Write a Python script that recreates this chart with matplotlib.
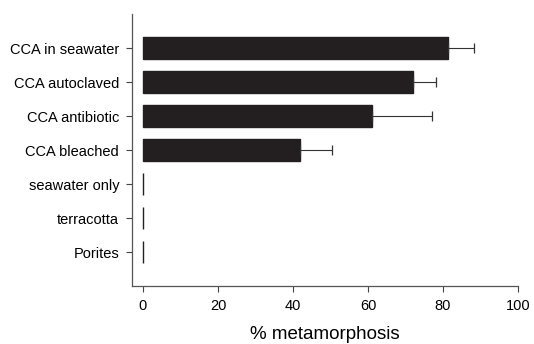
import matplotlib
matplotlib.use("Agg")
import matplotlib.pyplot as plt
import numpy as np

plt.rcParams['font.family'] = ['Liberation Sans', 'DejaVu Sans']

# Data (top to bottom)
treatments = ['CCA in seawater', 'CCA autoclaved', 'CCA antibiotic', 'CCA bleached',
              'seawater only', 'terracotta', 'Porites']
metamorphosis = [81.3, 71.9, 61.1, 42.0, 0, 0, 0]
error_upper = [6.9, 6.3, 16.0, 8.5, 0, 0, 0]

fig = plt.figure(figsize=(5.34, 3.44), dpi=100)
ax = fig.add_axes([0.2467, 0.1686, 0.7233, 0.7907])

y = np.arange(len(treatments))
bar_color = '#231f20'
ax.barh(y, metamorphosis, height=0.62, color=bar_color, edgecolor=bar_color, linewidth=1.0)

# one-sided (upper) error bars
has_err = np.array(error_upper) > 0
ax.errorbar(np.array(metamorphosis)[has_err], y[has_err],
            xerr=[np.zeros(has_err.sum()), np.array(error_upper)[has_err]],
            fmt='none', ecolor='#333333', elinewidth=0.8, capsize=3.5, capthick=0.9)

ax.set_xlim(-3, 100)
ax.set_ylim(len(treatments), -1)
ax.set_yticks(y)
ax.set_yticklabels(treatments, fontsize=10.5)
ax.set_xticks([0, 20, 40, 60, 80, 100])
ax.tick_params(axis='x', labelsize=10.5, length=4, width=0.8, color='#444444', pad=5)
ax.tick_params(axis='y', length=4, width=0.8, color='#444444', pad=5)

for side in ['top', 'right']:
    ax.spines[side].set_visible(False)
for side in ['left', 'bottom']:
    ax.spines[side].set_color('#555555')
    ax.spines[side].set_linewidth(0.9)

ax.set_xlabel('% metamorphosis', fontsize=13.5, va='center')
ax.xaxis.set_label_coords(0.5, -0.18)

plt.savefig('out.png', dpi=100)
plt.close()
